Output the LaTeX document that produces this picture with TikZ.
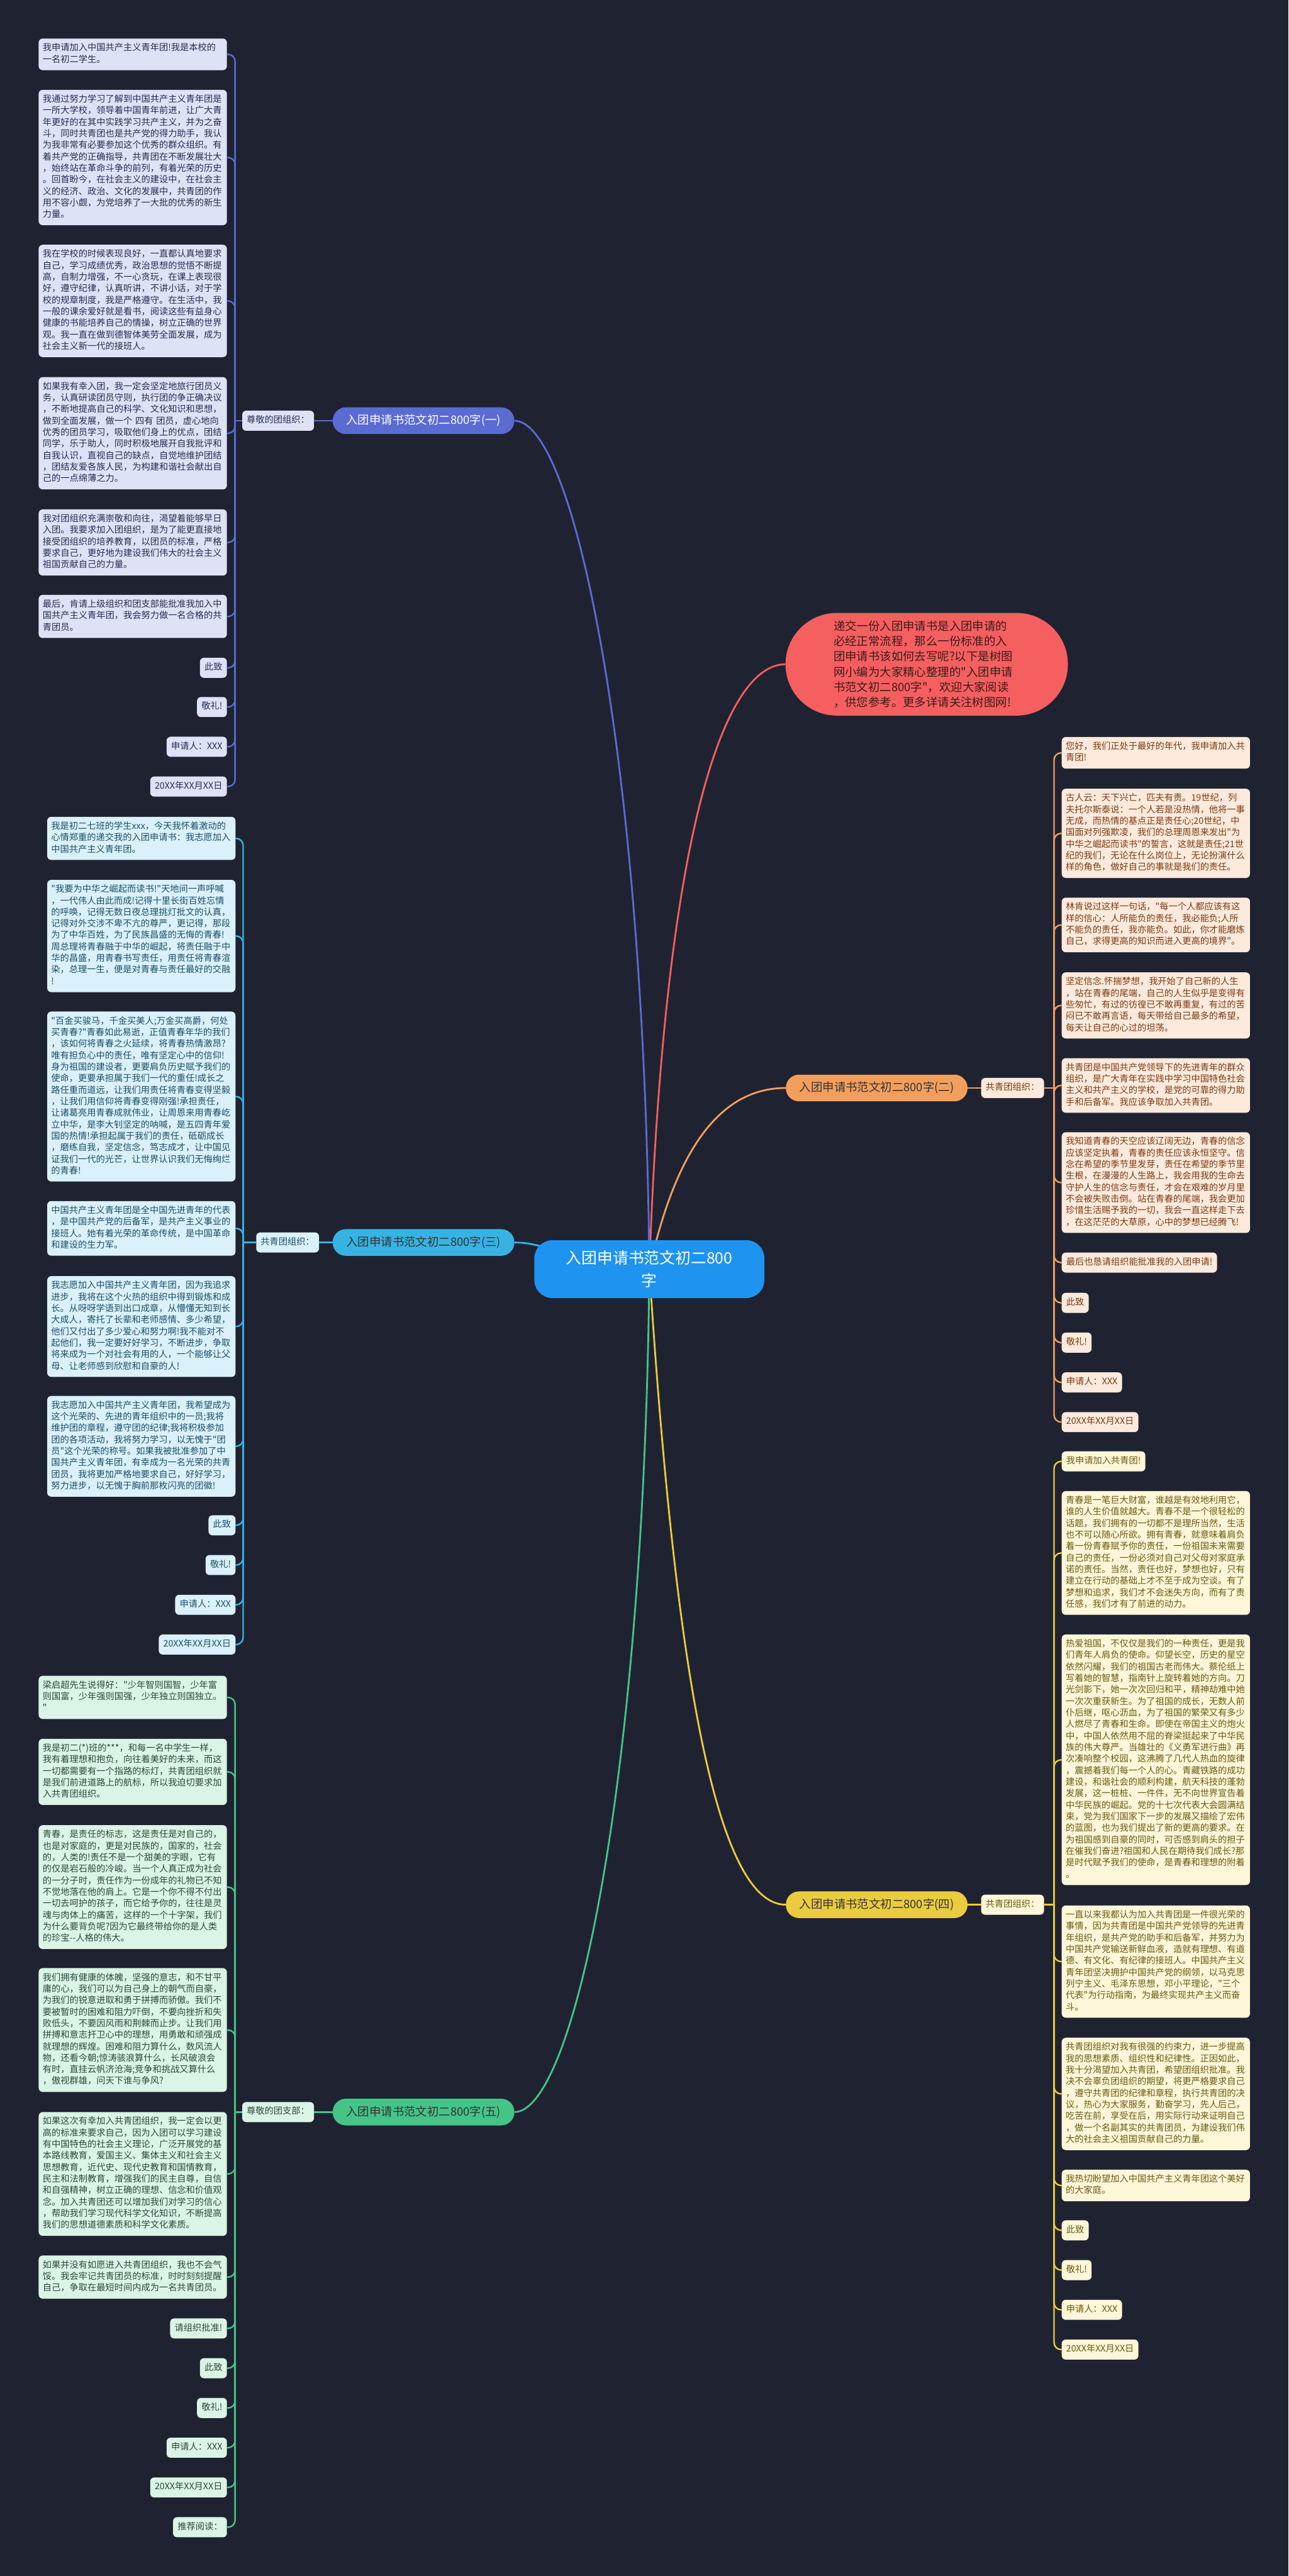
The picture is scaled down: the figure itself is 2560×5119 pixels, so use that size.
\documentclass[tikz,border=0pt]{standalone}
\usepackage{fontspec}
\setmainfont{Noto Sans CJK SC}[Ligatures=TeXOff]
\definecolor{bg}{HTML}{1F2331}
\definecolor{l1}{HTML}{5A6BD2}\definecolor{f1}{HTML}{DEE2F6}\definecolor{t1}{HTML}{262D52}
\definecolor{l2}{HTML}{F29F5E}\definecolor{f2}{HTML}{FDEADC}\definecolor{t2}{HTML}{7A3A12}
\definecolor{l3}{HTML}{36B3E3}\definecolor{f3}{HTML}{DAF1FB}\definecolor{t3}{HTML}{1B4E66}
\definecolor{l4}{HTML}{EBCB40}\definecolor{f4}{HTML}{FDF6D8}\definecolor{t4}{HTML}{6A5A10}
\definecolor{l5}{HTML}{45C487}\definecolor{f5}{HTML}{DAF4E6}\definecolor{t5}{HTML}{2A4A38}
\definecolor{cblue}{HTML}{1F93F0}
\definecolor{cred}{HTML}{F55F5F}\definecolor{tred}{HTML}{3E1A1A}
\newcommand\bxfont{\fontsize{17.8}{22.9}\selectfont}
\newcommand\brfont{\fontsize{23}{28}\selectfont}
\newcommand\ctfont{\fontsize{31}{46}\selectfont}
\newcommand\rbfont{\fontsize{23}{30.3}\selectfont}
\tikzset{
  base/.style={rounded corners=8pt, inner xsep=8pt, inner ysep=8.5pt, font=\bxfont},
  mbox/.style={base, text width=358pt, align=left},
  sbox/.style={base, inner xsep=9pt},
  g1/.style={fill=f1, text=t1}, g2/.style={fill=f2, text=t2}, g3/.style={fill=f3, text=t3},
  g4/.style={fill=f4, text=t4}, g5/.style={fill=f5, text=t5},
  branch/.style={rounded corners=26pt, minimum height=53pt, inner xsep=27pt, font=\brfont},
  ln/.style={line width=3pt, rounded corners=14pt},
  cv/.style={line width=3.5pt},
}
\begin{document}
\begin{tikzpicture}[x=1pt,y=-1pt]
\fill[bg] (0,0) rectangle (2560,5119);
\useasboundingbox (0,0) rectangle (2560,5119);

% ---------- root and branches ----------
\node[rounded corners=102pt, fill=cred, text=tred, minimum width=561pt, minimum height=204pt,
      text width=370pt, align=left, font=\rbfont] (rb) at (1841,1320)
 {递交一份入团申请书是入团申请的\\必经正常流程，那么一份标准的入\\团申请书该如何去写呢?以下是树图\\网小编为大家精心整理的"入团申请\\书范文初二800字"，欢迎大家阅读\\，供您参考。更多详请关注树图网!};

\node[branch, fill=l1, text=white, anchor=east] (b1) at (1022,836) {入团申请书范文初二800字(一)};
\node[branch, fill=l2, text=black!80, anchor=west] (b2) at (1561,2162) {入团申请书范文初二800字(二)};
\node[branch, fill=l3, text=black!80, anchor=east] (b3) at (1022,2469) {入团申请书范文初二800字(三)};
\node[branch, fill=l4, text=black!80, anchor=west] (b4) at (1561,3785) {入团申请书范文初二800字(四)};
\node[branch, fill=l5, text=black!80, anchor=east] (b5) at (1022,4197) {入团申请书范文初二800字(五)};

\coordinate (cc) at (1290,2522);
\draw[cv, draw=cred] (cc) .. controls (1320,1650) and (1440,1320) .. (rb.west);
\draw[cv, draw=l1] (cc) .. controls (1280,1500) and (1140,836) .. (b1.east);
\draw[cv, draw=l3] (cc) .. controls (1150,2522) and (1100,2469) .. (b3.east);
\draw[cv, draw=l5] (cc) .. controls (1280,3540) and (1140,4197) .. (b5.east);
\draw[cv, draw=l2] (cc) .. controls (1350,2250) and (1450,2162) .. (b2.west);
\draw[cv, draw=l4] (cc) .. controls (1340,3300) and (1420,3785) .. (b4.west);

\node[rounded corners=36pt, fill=cblue, text=white, minimum width=457pt, minimum height=115pt,
      align=center, font=\ctfont] (c) at (cc) {入团申请书范文初二800\\字};

% ---------- labels ----------
\node[sbox, g1, anchor=east] (lab1) at (624,836) {\strut 尊敬的团组织：\strut};
\node[sbox, g2, anchor=west] (lab2) at (1949,2162) {\strut 共青团组织：\strut};
\node[sbox, g3, anchor=east] (lab3) at (634,2469) {\strut 共青团组织：\strut};
\node[sbox, g4, anchor=west] (lab4) at (1949,3785) {\strut 共青团组织：\strut};
\node[sbox, g5, anchor=east] (lab5) at (624,4197) {\strut 尊敬的团支部：\strut};
\draw[ln, draw=l1] (b1.west) -- (lab1.east);
\draw[ln, draw=l2] (b2.east) -- (lab2.west);
\draw[ln, draw=l3] (b3.west) -- (lab3.east);
\draw[ln, draw=l4] (b4.east) -- (lab4.west);
\draw[ln, draw=l5] (b5.west) -- (lab5.east);

% ---------- group 1 ----------
\node[mbox, g1, anchor=east] (a1) at (451,108) {\strut 我申请加入中国共产主义青年团!我是本校的\\一名初二学生。\strut};
\node[mbox, g1, anchor=east] (a2) at (451,313) {\strut 我通过努力学习了解到中国共产主义青年团是\\一所大学校，领导着中国青年前进，让广大青\\年更好的在其中实践学习共产主义，并为之奋\\斗，同时共青团也是共产党的得力助手，我认\\为我非常有必要参加这个优秀的群众组织。有\\着共产党的正确指导，共青团在不断发展壮大\\，始终站在革命斗争的前列，有着光荣的历史\\。回首盼今，在社会主义的建设中，在社会主\\义的经济、政治、文化的发展中，共青团的作\\用不容小觑，为党培养了一大批的优秀的新生\\力量。\strut};
\node[mbox, g1, anchor=east] (a3) at (451,598) {\strut 我在学校的时候表现良好，一直都认真地要求\\自己，学习成绩优秀，政治思想的觉悟不断提\\高，自制力增强，不一心贪玩，在课上表现很\\好，遵守纪律，认真听讲，不讲小话，对于学\\校的规章制度，我是严格遵守。在生活中，我\\一般的课余爱好就是看书，阅读这些有益身心\\健康的书能培养自己的情操，树立正确的世界\\观。我一直在做到德智体美劳全面发展，成为\\社会主义新一代的接班人。\strut};
\node[mbox, g1, anchor=east] (a4) at (451,861) {\strut 如果我有幸入团，我一定会坚定地旅行团员义\\务，认真研读团员守则，执行团的争正确决议\\，不断地提高自己的科学、文化知识和思想，\\做到全面发展，做一个 四有 团员，虚心地向\\优秀的团员学习，吸取他们身上的优点，团结\\同学，乐于助人，同时积极地展开自我批评和\\自我认识，直视自己的缺点，自觉地维护团结\\，团结友爱各族人民，为构建和谐社会献出自\\己的一点绵薄之力。\strut};
\node[mbox, g1, anchor=east] (a5) at (451,1078) {\strut 我对团组织充满崇敬和向往，渴望着能够早日\\入团。我要求加入团组织，是为了能更直接地\\接受团组织的培养教育，以团员的标准，严格\\要求自己，更好地为建设我们伟大的社会主义\\祖国贡献自己的力量。\strut};
\node[mbox, g1, anchor=east] (a6) at (451,1225) {\strut 最后，肯请上级组织和团支部能批准我加入中\\国共产主义青年团，我会努力做一名合格的共\\青团员。\strut};
\node[sbox, g1, anchor=east] (a7) at (451,1327) {\strut 此致\strut};
\node[sbox, g1, anchor=east] (a8) at (451,1405) {\strut 敬礼!\strut};
\node[sbox, g1, anchor=east] (a9) at (451,1484) {\strut 申请人：XXX\strut};
\node[sbox, g1, anchor=east] (a10) at (451,1563) {\strut 20XX年XX月XX日\strut};
\draw[ln, draw=l1] (lab1.west) -- (467,836);
\foreach \n in {a1,a2,a3,a4,a5,a6,a7,a8,a9,a10} \draw[ln, draw=l1] (467,836) |- (\n.east);

% ---------- group 3 ----------
\node[mbox, g3, anchor=east] (c1) at (468,1666) {\strut 我是初二七班的学生xxx，今天我怀着激动的\\心情郑重的递交我的入团申请书：我志愿加入\\中国共产主义青年团。\strut};
\node[mbox, g3, anchor=east] (c2) at (468,1860) {\strut "我要为中华之崛起而读书!"天地间一声呼喊\\，一代伟人由此而成!记得十里长街百姓忘情\\的呼唤，记得无数日夜总理挑灯批文的认真，\\记得对外交涉不卑不亢的尊严，更记得，那段\\为了中华百姓，为了民族昌盛的无悔的青春!\\周总理将青春融于中华的崛起，将责任融于中\\华的昌盛，用青春书写责任，用责任将青春渲\\染，总理一生，便是对青春与责任最好的交融\\!\strut};
\node[mbox, g3, anchor=east] (c3) at (468,2179) {\strut "百金买骏马，千金买美人;万金买高爵，何处\\买青春?"青春如此易逝，正值青春年华的我们\\，该如何将青春之火延续，将青春热情激昂?\\唯有担负心中的责任，唯有坚定心中的信仰!\\身为祖国的建设者，更要肩负历史赋予我们的\\使命，更要承担属于我们一代的重任!成长之\\路任重而道远，让我们用责任将青春变得坚毅\\，让我们用信仰将青春变得刚强!承担责任，\\让诸葛亮用青春成就伟业，让周恩来用青春屹\\立中华，是李大钊坚定的呐喊，是五四青年爱\\国的热情!承担起属于我们的责任，砥砺成长\\，磨练自我，坚定信念，笃志成才，让中国见\\证我们一代的光芒，让世界认识我们无悔绚烂\\的青春!\strut};
\node[mbox, g3, anchor=east] (c4) at (468,2441) {\strut 中国共产主义青年团是全中国先进青年的代表\\，是中国共产党的后备军，是共产主义事业的\\接班人。她有着光荣的革命传统，是中国革命\\和建设的生力军。\strut};
\node[mbox, g3, anchor=east] (c5) at (468,2636) {\strut 我志愿加入中国共产主义青年团，因为我追求\\进步，我将在这个火热的组织中得到锻炼和成\\长。从呀呀学语到出口成章，从懵懂无知到长\\大成人，寄托了长辈和老师感情、多少希望，\\他们又付出了多少爱心和努力啊!我不能对不\\起他们，我一定要好好学习，不断进步，争取\\将来成为一个对社会有用的人，一个能够让父\\母、让老师感到欣慰和自豪的人!\strut};
\node[mbox, g3, anchor=east] (c6) at (468,2874) {\strut 我志愿加入中国共产主义青年团，我希望成为\\这个光荣的、先进的青年组织中的一员;我将\\维护团的章程，遵守团的纪律;我将积极参加\\团的各项活动，我将努力学习，以无愧于"团\\员"这个光荣的称号。如果我被批准参加了中\\国共产主义青年团，有幸成为一名光荣的共青\\团员，我将更加严格地要求自己，好好学习，\\努力进步，以无愧于胸前那枚闪亮的团徽!\strut};
\node[sbox, g3, anchor=east] (c7) at (468,3031) {\strut 此致\strut};
\node[sbox, g3, anchor=east] (c8) at (468,3110) {\strut 敬礼!\strut};
\node[sbox, g3, anchor=east] (c9) at (468,3189) {\strut 申请人：XXX\strut};
\node[sbox, g3, anchor=east] (c10) at (468,3268) {\strut 20XX年XX月XX日\strut};
\draw[ln, draw=l3] (lab3.west) -- (483,2469);
\foreach \n in {c1,c2,c3,c4,c5,c6,c7,c8,c9,c10} \draw[ln, draw=l3] (483,2469) |- (\n.east);

% ---------- group 5 ----------
\node[mbox, g5, anchor=east] (e1) at (451,3373) {\strut 梁启超先生说得好："少年智则国智，少年富\\则国富，少年强则国强，少年独立则国独立。\\"\strut};
\node[mbox, g5, anchor=east] (e2) at (451,3521) {\strut 我是初二(*)班的***，和每一名中学生一样，\\我有着理想和抱负，向往着美好的未来，而这\\一切都需要有一个指路的标灯，共青团组织就\\是我们前进道路上的航标，所以我迫切要求加\\入共青团组织。\strut};
\node[mbox, g5, anchor=east] (e3) at (451,3750) {\strut 青春，是责任的标志，这是责任是对自己的，\\也是对家庭的，更是对民族的，国家的，社会\\的，人类的!责任不是一个甜美的字眼，它有\\的仅是岩石般的冷峻。当一个人真正成为社会\\的一分子时，责任作为一份成年的礼物已不知\\不觉地落在他的肩上。它是一个你不得不付出\\一切去呵护的孩子，而它给予你的，往往是灵\\魂与肉体上的痛苦，这样的一个十字架，我们\\为什么要背负呢?因为它最终带给你的是人类\\的珍宝-{}-人格的伟大。\strut};
\node[mbox, g5, anchor=east] (e4) at (451,4034) {\strut 我们拥有健康的体魄，坚强的意志，和不甘平\\庸的心，我们可以为自己身上的朝气而自豪，\\为我们的锐意进取和勇于拼搏而骄傲。我们不\\要被暂时的困难和阻力吓倒，不要向挫折和失\\败低头，不要因风雨和荆棘而止步。让我们用\\拼搏和意志扞卫心中的理想，用勇敢和顽强成\\就理想的辉煌。困难和阻力算什么，数风流人\\物，还看今朝;惊涛骇浪算什么，长风破浪会\\有时，直挂云帆济沧海;竞争和挑战又算什么\\，傲视群雄，问天下谁与争风?\strut};
\node[mbox, g5, anchor=east] (e5) at (451,4320) {\strut 如果这次有幸加入共青团组织，我一定会以更\\高的标准来要求自己，因为入团可以学习建设\\有中国特色的社会主义理论，广泛开展党的基\\本路线教育，爱国主义、集体主义和社会主义\\思想教育，近代史、现代史教育和国情教育，\\民主和法制教育，增强我们的民主自尊，自信\\和自强精神，树立正确的理想、信念和价值观\\念。加入共青团还可以增加我们对学习的信心\\，帮助我们学习现代科学文化知识，不断提高\\我们的思想道德素质和科学文化素质。\strut};
\node[mbox, g5, anchor=east] (e6) at (451,4525) {\strut 如果并没有如愿进入共青团组织，我也不会气\\馁。我会牢记共青团员的标准，时时刻刻提醒\\自己，争取在最短时间内成为一名共青团员。\strut};
\node[sbox, g5, anchor=east] (e7) at (451,4627) {\strut 请组织批准!\strut};
\node[sbox, g5, anchor=east] (e8) at (451,4706) {\strut 此致\strut};
\node[sbox, g5, anchor=east] (e9) at (451,4785) {\strut 敬礼!\strut};
\node[sbox, g5, anchor=east] (e10) at (451,4864) {\strut 申请人：XXX\strut};
\node[sbox, g5, anchor=east] (e11) at (451,4943) {\strut 20XX年XX月XX日\strut};
\node[sbox, g5, anchor=east] (e12) at (451,5022) {\strut 推荐阅读：\strut};
\draw[ln, draw=l5] (lab5.west) -- (467,4197);
\foreach \n in {e1,e2,e3,e4,e5,e6,e7,e8,e9,e10,e11,e12} \draw[ln, draw=l5] (467,4197) |- (\n.east);

% ---------- group 2 ----------
\node[mbox, g2, anchor=west] (d1) at (2109,1496) {\strut 您好，我们正处于最好的年代，我申请加入共\\青团!\strut};
\node[mbox, g2, anchor=west] (d2) at (2109,1656) {\strut 古人云：天下兴亡，匹夫有责。19世纪，列\\夫托尔斯泰说：一个人若是没热情，他将一事\\无成，而热情的基点正是责任心;20世纪，中\\国面对列强欺凌，我们的总理周恩来发出"为\\中华之崛起而读书"的誓言，这就是责任;21世\\纪的我们，无论在什么岗位上，无论扮演什么\\样的角色，做好自己的事就是我们的责任。\strut};
\node[mbox, g2, anchor=west] (d3) at (2109,1838) {\strut 林肯说过这样一句话，"每一个人都应该有这\\样的信心：人所能负的责任，我必能负;人所\\不能负的责任，我亦能负。如此，你才能磨炼\\自己，求得更高的知识而进入更高的境界"。\strut};
\node[mbox, g2, anchor=west] (d4) at (2109,1998) {\strut 坚定信念.怀揣梦想，我开始了自己新的人生\\，站在青春的尾端，自己的人生似乎是变得有\\些匆忙，有过的彷徨已不敢再重复，有过的苦\\闷已不敢再言语，每天带给自己最多的希望，\\每天让自己的心过的坦荡。\strut};
\node[mbox, g2, anchor=west] (d5) at (2109,2157) {\strut 共青团是中国共产党领导下的先进青年的群众\\组织，是广大青年在实践中学习中国特色社会\\主义和共产主义的学校，是党的可靠的得力助\\手和后备军。我应该争取加入共青团。\strut};
\node[mbox, g2, anchor=west] (d6) at (2109,2350) {\strut 我知道青春的天空应该辽阔无边，青春的信念\\应该坚定执着，青春的责任应该永恒坚守。信\\念在希望的季节里发芽，责任在希望的季节里\\生根，在漫漫的人生路上，我会用我的生命去\\守护人生的信念与责任，才会在艰难的岁月里\\不会被失败击倒。站在青春的尾端，我会更加\\珍惜生活赐予我的一切，我会一直这样走下去\\，在这茫茫的大草原，心中的梦想已经腾飞!\strut};
\node[sbox, g2, anchor=west] (d7) at (2109,2509) {\strut 最后也恳请组织能批准我的入团申请!\strut};
\node[sbox, g2, anchor=west] (d8) at (2109,2589) {\strut 此致\strut};
\node[sbox, g2, anchor=west] (d9) at (2109,2668) {\strut 敬礼!\strut};
\node[sbox, g2, anchor=west] (d10) at (2109,2747) {\strut 申请人：XXX\strut};
\node[sbox, g2, anchor=west] (d11) at (2109,2826) {\strut 20XX年XX月XX日\strut};
\draw[ln, draw=l2] (lab2.east) -- (2094,2162);
\foreach \n in {d1,d2,d3,d4,d5,d6,d7,d8,d9,d10,d11} \draw[ln, draw=l2] (2094,2162) |- (\n.west);

% ---------- group 4 ----------
\node[sbox, g4, anchor=west] (f1) at (2109,2904) {\strut 我申请加入共青团!\strut};
\node[mbox, g4, anchor=west] (f2) at (2109,3086) {\strut 青春是一笔巨大财富，谁越是有效地利用它，\\谁的人生价值就越大。青春不是一个很轻松的\\话题，我们拥有的一切都不是理所当然，生活\\也不可以随心所欲。拥有青春，就意味着肩负\\着一份青春赋予你的责任，一份祖国未来需要\\自己的责任，一份必须对自己对父母对家庭承\\诺的责任。当然，责任也好，梦想也好，只有\\建立在行动的基础上才不至于成为空谈。有了\\梦想和追求，我们才不会迷失方向，而有了责\\任感，我们才有了前进的动力。\strut};
\node[mbox, g4, anchor=west] (f3) at (2109,3497) {\strut 热爱祖国，不仅仅是我们的一种责任，更是我\\们青年人肩负的使命。仰望长空，历史的星空\\依然闪耀，我们的祖国古老而伟大。蔡伦纸上\\写着她的智慧，指南针上旋转着她的方向。刀\\光剑影下，她一次次回归和平，精神劫难中她\\一次次重获新生。为了祖国的成长，无数人前\\仆后继，呕心沥血，为了祖国的繁荣又有多少\\人燃尽了青春和生命。即使在帝国主义的炮火\\中，中国人依然用不屈的脊梁挺起来了中华民\\族的伟大尊严。当雄壮的《义勇军进行曲》再\\次凑响整个校园，这沸腾了几代人热血的旋律\\，震撼着我们每一个人的心。青藏铁路的成功\\建设，和谐社会的顺利构建，航天科技的蓬勃\\发展，这一桩桩、一件件，无不向世界宣告着\\中华民族的崛起。党的十七次代表大会圆满结\\束，党为我们国家下一步的发展又描绘了宏伟\\的蓝图，也为我们提出了新的更高的要求。在\\为祖国感到自豪的同时，可否感到肩头的担子\\在催我们奋进?祖国和人民在期待我们成长?那\\是时代赋予我们的使命，是青春和理想的附着\\。\strut};
\node[mbox, g4, anchor=west] (f4) at (2109,3898) {\strut 一直以来我都认为加入共青团是一件很光荣的\\事情，因为共青团是中国共产党领导的先进青\\年组织，是共产党的助手和后备军，并努力为\\中国共产党输送新鲜血液，造就有理想、有道\\德、有文化、有纪律的接班人。中国共产主义\\青年团坚决拥护中国共产党的纲领，以马克思\\列宁主义、毛泽东思想，邓小平理论，"三个\\代表"为行动指南，为最终实现共产主义而奋\\斗。\strut};
\node[mbox, g4, anchor=west] (f5) at (2109,4161) {\strut 共青团组织对我有很强的约束力，进一步提高\\我的思想素质、组织性和纪律性。正因如此，\\我十分渴望加入共青团，希望团组织批准。我\\决不会辜负团组织的期望，将更严格要求自己\\，遵守共青团的纪律和章程，执行共青团的决\\议，热心为大家服务，勤奋学习，先人后己，\\吃苦在前，享受在后，用实际行动来证明自己\\，做一个名副其实的共青团员，为建设我们伟\\大的社会主义祖国贡献自己的力量。\strut};
\node[mbox, g4, anchor=west] (f6) at (2109,4343) {\strut 我热切盼望加入中国共产主义青年团这个美好\\的大家庭。\strut};
\node[sbox, g4, anchor=west] (f7) at (2109,4432) {\strut 此致\strut};
\node[sbox, g4, anchor=west] (f8) at (2109,4511) {\strut 敬礼!\strut};
\node[sbox, g4, anchor=west] (f9) at (2109,4590) {\strut 申请人：XXX\strut};
\node[sbox, g4, anchor=west] (f10) at (2109,4669) {\strut 20XX年XX月XX日\strut};
\draw[ln, draw=l4] (lab4.east) -- (2094,3785);
\foreach \n in {f1,f2,f3,f4,f5,f6,f7,f8,f9,f10} \draw[ln, draw=l4] (2094,3785) |- (\n.west);
\end{tikzpicture}
\end{document}
